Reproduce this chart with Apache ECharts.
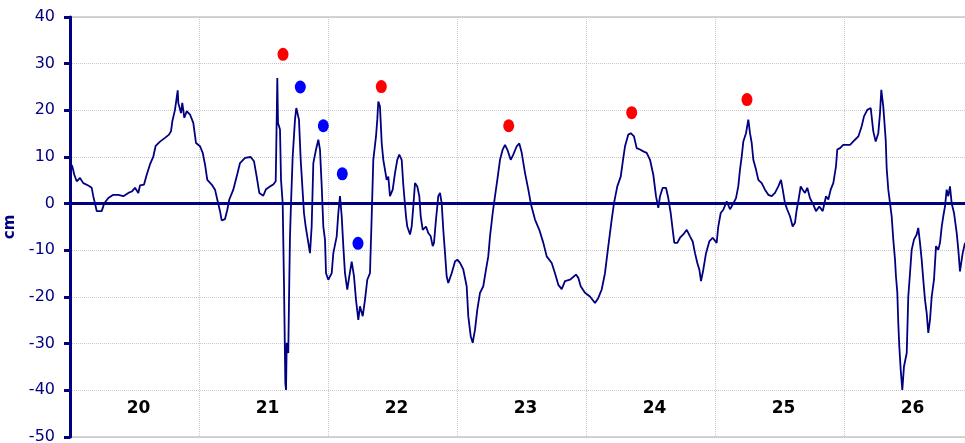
<!DOCTYPE html>
<html>
<head>
<meta charset="utf-8">
<script src="https://cdn.jsdelivr.net/npm/echarts@6/dist/echarts.min.js"></script>
<style>
  html, body { margin: 0; padding: 0; background: #ffffff; }
  #chart { width: 965px; height: 443px; }
</style>
</head>
<body>
<div id="chart"></div>
<script>
// Time in hours since day 20, 00:00
const hours = [
  0.0, 0.43, 0.8, 1.25, 1.86, 2.47, 3.4, 4.04, 4.33, 4.78, 4.97, 5.9, 6.38, 7.13, 8.06, 8.99, 9.92, 10.85, 11.48, 12.09,
  12.71, 13.02, 13.77, 14.27, 14.88, 15.5, 15.94, 16.74, 17.67, 18.42, 18.79, 19.03, 19.53, 20.04, 20.15, 20.65, 20.89, 21.27, 21.71, 22.33,
  22.94, 23.44, 24.19, 24.69, 25.12, 25.54, 26.36, 26.98, 27.4, 27.91, 28.22, 28.84, 29.27, 29.64, 30.38, 31.01, 31.63, 32.56, 33.62, 34.23,
  34.73, 35.22, 35.96, 36.47, 37.21, 37.82, 38.27, 38.38, 38.57, 38.7, 39.07, 39.26, 39.57, 39.81, 40.06, 40.19, 40.32, 40.61, 40.8, 40.93,
  41.12, 41.43, 41.86, 42.1, 42.6, 42.92, 43.53, 43.85, 44.65, 44.96, 45.27, 45.77, 46.2, 46.51, 46.83, 47.13, 47.44, 47.63, 48.06, 48.69,
  48.99, 49.62, 49.92, 50.23, 50.55, 50.85, 51.16, 51.59, 51.96, 52.41, 52.84, 53.21, 53.64, 53.95, 54.46, 54.88, 55.31, 55.81, 56.13, 56.43,
  56.93, 57.17, 57.36, 57.67, 57.99, 58.29, 58.92, 59.22, 59.53, 60.04, 60.47, 60.89, 61.26, 61.71, 62.01, 62.51, 62.75, 63.26, 63.57, 63.87,
  64.19, 64.61, 64.99, 65.25, 65.62, 66.23, 66.66, 67.11, 67.48, 67.72, 68.09, 68.52, 68.84, 69.15, 69.45, 69.77, 70.08, 70.38, 71.01, 71.63,
  72.06, 72.56, 73.17, 73.8, 74.1, 74.55, 74.92, 75.35, 75.78, 76.28, 76.89, 77.4, 77.82, 78.14, 78.64, 79.07, 79.5, 80.0, 80.5, 80.93,
  81.36, 81.99, 82.47, 83.11, 83.59, 84.04, 84.65, 85.27, 85.77, 86.51, 87.31, 88.06, 88.69, 89.62, 90.23, 90.85, 91.48, 92.09, 93.02, 94.14,
  94.57, 95.01, 95.81, 96.74, 97.67, 98.29, 98.92, 99.53, 100.15, 100.78, 101.21, 101.82, 102.46, 102.94, 103.26, 103.87, 104.32, 104.93, 105.43, 106.05,
  106.66, 107.29, 107.91, 108.52, 109.02, 109.45, 109.77, 110.27, 110.88, 111.31, 111.76, 112.13, 112.43, 112.99, 113.49, 114.1, 114.74, 115.35, 115.85, 116.28,
  116.71, 117.08, 117.4, 117.83, 118.33, 118.94, 119.57, 120.31, 120.61, 121.06, 121.54, 122.18, 122.79, 123.29, 123.91, 124.33, 124.65, 124.97, 125.27, 125.77,
  126.2, 126.51, 126.83, 127.13, 127.63, 128.06, 128.69, 129.3, 129.92, 130.55, 131.16, 131.78, 132.28, 132.6, 133.02, 133.45, 133.95, 134.45, 134.88, 135.2,
  135.5, 135.94, 136.32, 136.74, 137.17, 137.67, 138.29, 138.79, 139.4, 140.04, 140.65, 141.08, 141.52, 142.01, 142.51, 142.75, 143.26, 143.87, 144.19, 145.12,
  146.05, 146.67, 147.29, 147.72, 148.33, 148.97, 149.45, 149.9, 150.38, 150.7, 150.94, 151.31, 151.76, 151.94, 152.24, 152.56, 152.87, 153.17, 153.49, 153.67,
  153.92, 154.1, 154.29, 154.55, 154.85, 155.16, 155.67, 155.96, 156.28, 156.59, 157.02, 157.52, 157.82, 158.14, 158.45, 158.75, 159.07, 159.38, 159.68, 160.0,
  160.32, 160.74, 161.12, 161.54, 161.86, 162.18, 162.47, 162.79, 163.1, 163.4, 163.72, 164.03, 164.47, 164.97, 165.27, 165.58, 166.08, 166.51
];
// Water level (cm)
const level = [
  8.7, 8.0, 6.2, 4.8, 5.5, 4.4, 3.9, 3.4, 1.6, -0.6, -1.6, -1.6, 0.1, 1.2, 1.9, 1.9, 1.6, 2.3, 2.6, 3.4,
  2.3, 3.9, 4.1, 6.2, 8.4, 10.1, 12.4, 13.3, 14.1, 14.8, 15.5, 17.6, 20.1, 24.3, 21.6, 19.4, 21.6, 18.4, 19.8, 19.1,
  17.3, 13.0, 12.3, 10.9, 8.4, 5.1, 4.1, 3.0, 0.9, -1.6, -3.6, -3.3, -1.3, 0.9, 3.0, 5.8, 8.7, 9.8, 10.0, 9.1,
  5.8, 2.3, 1.7, 3.1, 3.7, 4.1, 4.8, 12.3, 26.9, 17.3, 15.9, 5.1, 0.1, -17.0, -38.4, -39.9, -29.8, -32.0, -16.3, -7.0,
  0.1, 10.1, 18.0, 20.5, 18.0, 9.4, -2.0, -4.9, -10.6, -4.9, 8.7, 11.6, 13.7, 11.6, 3.7, -4.9, -7.7, -14.9, -16.3, -14.9,
  -10.6, -7.0, -2.0, 1.6, -2.7, -9.1, -14.9, -18.4, -15.6, -12.4, -15.6, -20.6, -24.9, -22.0, -24.1, -20.6, -16.3, -14.9, -2.7, 9.4,
  14.4, 18.0, 21.9, 20.8, 13.0, 9.4, 5.1, 5.8, 1.6, 3.0, 6.6, 9.4, 10.5, 9.4, 4.0, -2.7, -4.9, -6.6, -4.9, -0.6,
  4.4, 3.7, 1.6, -2.7, -5.6, -4.9, -6.3, -7.0, -9.1, -8.4, -3.4, 1.6, 2.3, 0.1, -5.6, -10.6, -15.6, -17.0, -14.9, -12.4,
  -12.0, -12.7, -14.1, -17.7, -24.1, -28.4, -29.8, -27.0, -22.7, -19.1, -17.7, -14.1, -11.3, -7.0, -2.0, 1.6, 5.1, 9.4, 11.6, 12.6,
  11.6, 9.4, 10.5, 12.3, 12.9, 10.9, 6.6, 3.0, -0.2, -3.4, -5.6, -8.4, -11.3, -12.7, -14.9, -17.4, -18.3, -16.6, -16.3, -15.2,
  -15.9, -17.7, -19.1, -19.9, -21.3, -20.2, -18.4, -14.9, -9.1, -3.4, 0.1, 3.7, 5.8, 9.8, 12.3, 14.8, 15.1, 14.4, 11.9, 11.6,
  11.2, 10.9, 9.4, 6.2, 1.6, -0.9, 1.6, 3.4, 3.4, 1.2, -2.0, -5.6, -8.4, -8.4, -7.3, -6.6, -5.6, -7.0, -8.1, -10.6,
  -12.7, -14.1, -16.6, -14.1, -10.6, -8.1, -7.3, -8.4, -4.9, -2.0, -1.3, 0.5, -1.2, -0.2, 1.2, 3.7, 7.3, 10.1, 13.3, 15.1,
  18.0, 15.1, 13.0, 9.4, 7.3, 5.1, 4.4, 3.0, 1.9, 1.6, 2.3, 3.7, 5.1, 3.0, 0.1, -1.3, -2.7, -4.9, -4.1, -1.3,
  0.5, 3.7, 3.0, 2.3, 3.4, 1.2, -0.2, -1.6, -0.6, -1.6, 1.6, 0.9, 3.0, 4.4, 8.0, 11.6, 11.9, 12.6, 12.3, 12.6,
  13.7, 14.4, 16.6, 18.7, 20.1, 20.5, 15.5, 13.3, 15.1, 19.4, 24.4, 20.8, 13.7, 7.6, 3.0, 0.1, -2.7, -7.7, -12.0, -15.6,
  -19.1, -25.6, -30.6, -35.6, -39.9, -34.9, -32.0, -19.9, -14.9, -9.9, -7.7, -6.6, -5.2, -8.4, -12.0, -16.3, -20.6, -23.4, -27.7, -24.9,
  -19.9, -16.3, -9.1, -9.9, -8.4, -4.9, -2.7, -0.6, 3.0, 1.6, 3.7, 0.1, -2.0, -6.3, -9.9, -14.5, -10.6, -8.4
];
// Highlighted points
const redHours = [39.63, 57.92, 81.62, 104.5, 125.95];
const redLevels = [32.0, 25.1, 16.7, 19.5, 22.3];
const blueHours = [42.85, 47.13, 50.66, 53.58];
const blueLevels = [25.0, 16.7, 6.4, -8.5];
// Axis labels
const dayLabels = ['20', '21', '22', '23', '24', '25', '26'];
const labelHours = [12, 36, 60, 84, 108, 132, 156];

const lineData = hours.map((h, i) => [h, level[i]]);
const redData = redHours.map((h, i) => [h, redLevels[i]]);
const blueData = blueHours.map((h, i) => [h, blueLevels[i]]);

const chart = echarts.init(document.getElementById('chart'), null, { renderer: 'canvas' });
const navy = '#000080';
chart.setOption({
  animation: false,
  backgroundColor: '#ffffff',
  grid: {
    left: 70, right: -8, top: 17, bottom: 6,
    containLabel: false, outerBoundsMode: 'none',
    show: true, borderColor: '#a8a8a8', borderWidth: 1, backgroundColor: 'transparent'
  },
  xAxis: {
    type: 'value', min: 0, max: 168, interval: 24,
    axisLine: { show: true, lineStyle: { color: '#a8a8a8', width: 1 } },
    axisTick: { show: false },
    splitLine: { show: true, lineStyle: { color: '#c8c8c8', type: 'dotted', width: 1 } },
    axisLabel: {
      inside: true, margin: 20,
      customValues: labelHours,
      formatter: function (v) { return dayLabels[labelHours.indexOf(v)]; },
      color: '#000000', fontFamily: 'DejaVu Sans', fontWeight: 'bold', fontSize: 17,
      padding: [0, 0, 0, 8]
    }
  },
  yAxis: {
    type: 'value', min: -50, max: 40, interval: 10,
    name: 'cm', nameLocation: 'middle', nameGap: 52, nameRotate: 90,
    nameMoveOverlap: false,
    nameTextStyle: { color: navy, fontFamily: 'DejaVu Sans', fontWeight: 'bold', fontSize: 15 },
    axisLine: { show: true, lineStyle: { color: navy, width: 3 } },
    axisTick: { show: true, length: 6, lineStyle: { color: navy, width: 3 } },
    axisLabel: { color: navy, fontFamily: 'DejaVu Sans', fontSize: 16, margin: 15 },
    splitLine: { show: true, lineStyle: { color: '#c8c8c8', type: 'dotted', width: 1 } }
  },
  series: [
    {
      type: 'line', data: lineData, showSymbol: false, symbol: 'none',
      lineStyle: { color: navy, width: 1.8 },
      clip: true,
      markLine: {
        silent: true, symbol: 'none', label: { show: false },
        lineStyle: { color: navy, width: 3, type: 'solid' },
        data: [{ yAxis: 0 }]
      },
      z: 3
    },
    {
      type: 'scatter', data: redData, symbol: 'circle', symbolSize: [11, 13],
      itemStyle: { color: '#ff0000', opacity: 1 }, z: 4
    },
    {
      type: 'scatter', data: blueData, symbol: 'circle', symbolSize: [11, 13],
      itemStyle: { color: '#0000ff', opacity: 1 }, z: 4
    }
  ]
});
</script>
</body>
</html>
